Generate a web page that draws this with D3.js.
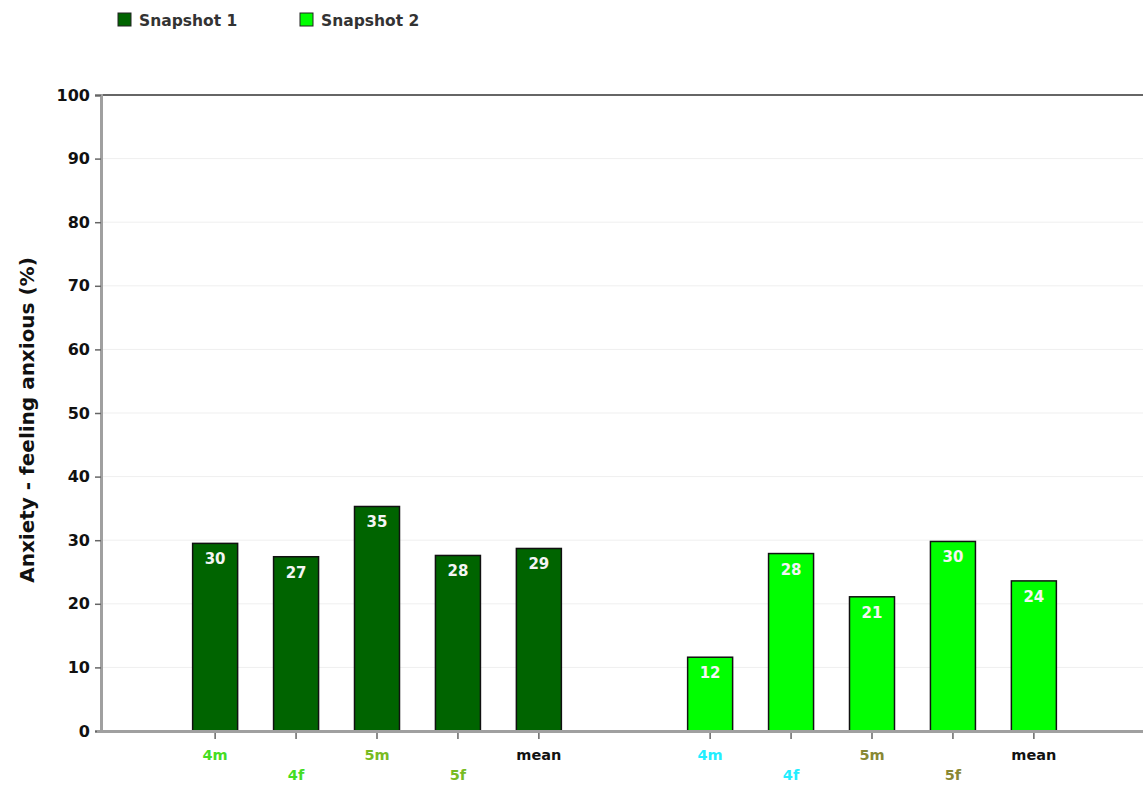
<!DOCTYPE html>
<html><head><meta charset="utf-8">
<script src="https://cdn.jsdelivr.net/npm/d3@7"></script>
<style>body{margin:0;background:#fff}svg{display:block}text{font-family:"DejaVu Sans",Verdana,sans-serif;font-weight:bold}</style>
</head><body>
<svg id="c" width="1143" height="793"></svg>
<script>
const groups = ["Snapshot 1", "Snapshot 2"];
const categories = ["4m", "4f", "5m", "5f", "mean"];
const snapshot1 = [29.5, 27.4, 35.3, 27.6, 28.7];
const snapshot2 = [11.6, 27.9, 21.1, 29.8, 23.6];
const yTicks = [0, 10, 20, 30, 40, 50, 60, 70, 80, 90, 100];
const groupColors = ["#006400", "#00ff00"];
const labelColors = [
  ["#44dd22", "#44dd22", "#77bb22", "#77bb22", "#111111"],
  ["#22eeff", "#22eeff", "#888833", "#888833", "#111111"]
];
const series = [snapshot1, snapshot2];

const svg = d3.select("#c");
const plotL = 101, plotR = 1143, plotT = 95, plotB = 731;

const y = d3.scaleLinear().domain([0, 100]).range([plotB, plotT]);
const xg = d3.scaleBand().domain(groups).range([129.5, 1119.5]);
const xc = d3.scaleBand().domain(categories).range([0, xg.bandwidth()]).paddingInner(0.444).paddingOuter(0.78);

// grid
svg.append("g").selectAll("line").data(yTicks.slice(1, -1)).join("line")
  .attr("x1", plotL).attr("x2", plotR).attr("y1", d => y(d)).attr("y2", d => y(d))
  .attr("stroke", "#efefef").attr("stroke-width", 1);
svg.append("line").attr("x1", plotL).attr("x2", plotR).attr("y1", y(100)).attr("y2", y(100))
  .attr("stroke", "#666").attr("stroke-width", 2);

// y axis
const ya = svg.append("g").attr("transform", `translate(${plotL},0)`)
  .call(d3.axisLeft(y).tickValues(yTicks).tickSize(6).tickPadding(5));
ya.select(".domain").attr("stroke", "#a0a0a0").attr("stroke-width", 3);
ya.selectAll(".tick line").attr("stroke", "#666").attr("stroke-width", 1.5);
ya.selectAll(".tick text").attr("font-size", 16).attr("font-weight", "bold").attr("fill", "#111")
  .attr("font-family", "'DejaVu Sans',Verdana,sans-serif");

// bars
groups.forEach((g, gi) => {
  const gg = svg.append("g").attr("transform", `translate(${xg(g)},0)`);
  const data = categories.map((c, i) => ({c, v: series[gi][i], i}));
  gg.selectAll("rect").data(data).join("rect")
    .attr("x", d => xc(d.c)).attr("width", xc.bandwidth())
    .attr("y", d => y(d.v)).attr("height", d => y(0) - y(d.v))
    .attr("fill", groupColors[gi]).attr("stroke", "#111").attr("stroke-width", 1.5);
  gg.selectAll("text.val").data(data).join("text").attr("class", "val")
    .attr("x", d => xc(d.c) + xc.bandwidth() / 2).attr("y", d => y(d.v) + 21)
    .attr("text-anchor", "middle").attr("font-size", 15)
    .attr("fill", "#f4f4f4").text(d => Math.round(d.v));
  gg.selectAll("line.tk").data(data).join("line").attr("class", "tk")
    .attr("x1", d => xc(d.c) + xc.bandwidth() / 2).attr("x2", d => xc(d.c) + xc.bandwidth() / 2)
    .attr("y1", plotB).attr("y2", plotB + 8).attr("stroke", "#666").attr("stroke-width", 1.5);
  gg.selectAll("text.cat").data(data).join("text").attr("class", "cat")
    .attr("x", d => xc(d.c) + xc.bandwidth() / 2)
    .attr("y", d => (d.i === 1 || d.i === 3) ? 780 : 760)
    .attr("text-anchor", "middle").attr("font-size", 14.5)
    .attr("fill", d => labelColors[gi][d.i]).text(d => d.c);
});

// x axis line
svg.append("line").attr("x1", plotL - 4).attr("x2", plotR).attr("y1", plotB + 0.5).attr("y2", plotB + 0.5)
  .attr("stroke", "#a0a0a0").attr("stroke-width", 3);

// y title
svg.append("text").attr("transform", `translate(34,${(plotT + plotB) / 2 + 7}) rotate(-90)`)
  .attr("text-anchor", "middle").attr("font-size", 20).attr("fill", "#111")
  .text("Anxiety - feeling anxious (%)");

// legend
const lx = [118, 300];
groups.forEach((g, gi) => {
  svg.append("rect").attr("x", lx[gi]).attr("y", 13).attr("width", 13).attr("height", 13)
    .attr("fill", groupColors[gi]).attr("stroke", "#222").attr("stroke-width", 1);
  svg.append("text").attr("x", lx[gi] + 21).attr("y", 26).attr("font-size", 15.5)
    .attr("fill", "#333").text(g);
});
</script>
</body></html>
